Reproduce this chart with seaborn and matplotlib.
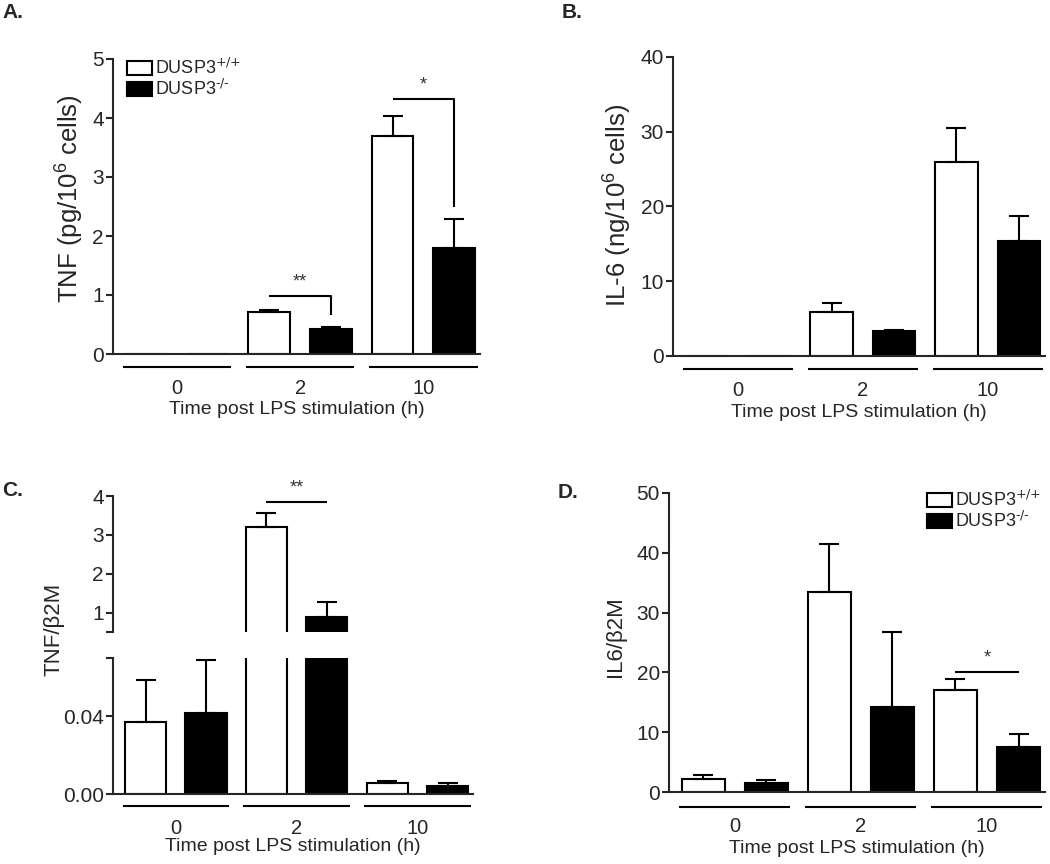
import numpy as np
import pandas as pd
import matplotlib
matplotlib.use("Agg")
import matplotlib.pyplot as plt
import matplotlib.transforms as mtransforms
from matplotlib.patches import Patch
import seaborn as sns

# ---- data ----
times = ["0", "2", "10"]
genotypes = [r"DUSP3$^{\text{+/+}}$", r"DUSP3$^{\text{-/-}}$"]

# A. TNF protein (pg/10^6 cells)
tnf_wt = [0.0, 0.71, 3.70]
tnf_wt_sem = [0.0, 0.03, 0.33]
tnf_ko = [0.0, 0.43, 1.79]
tnf_ko_sem = [0.0, 0.02, 0.50]

# B. IL-6 protein (ng/10^6 cells)
il6_wt = [0.0, 5.9, 25.9]
il6_wt_sem = [0.0, 1.2, 4.6]
il6_ko = [0.0, 3.3, 15.4]
il6_ko_sem = [0.0, 0.2, 3.3]

# C. TNF/b2M mRNA
tnfm_wt = [0.037, 3.20, 0.0056]
tnfm_wt_sem = [0.0215, 0.37, 0.0011]
tnfm_ko = [0.0415, 0.88, 0.0041]
tnfm_ko_sem = [0.0275, 0.38, 0.0015]

# D. IL6/b2M mRNA
il6m_wt = [2.2, 33.4, 17.1]
il6m_wt_sem = [0.65, 8.1, 1.8]
il6m_ko = [1.5, 14.2, 7.5]
il6m_ko_sem = [0.5, 12.6, 2.2]

# ---- style ----
sns.set_style("ticks")
plt.rcParams["font.family"] = ["Liberation Sans", "DejaVu Sans"]
plt.rcParams["mathtext.default"] = "regular"

W, H = 1050, 864
fig = plt.figure(figsize=(10.5, 8.64), dpi=100)


def px_axes(left, top, right, bottom):
    return fig.add_axes([left / W, 1 - bottom / H, (right - left) / W, (bottom - top) / H])


def long_df(wt, ko):
    return pd.DataFrame({
        "Time": times * 2,
        "Genotype": [genotypes[0]] * 3 + [genotypes[1]] * 3,
        "Value": list(wt) + list(ko),
    })


def draw_bars(ax, wt, ko, wt_sem, ko_sem):
    sns.barplot(data=long_df(wt, ko), x="Time", y="Value", hue="Genotype",
                order=times, hue_order=genotypes, palette=["white", "black"],
                edgecolor="black", linewidth=1.5, width=1.0, gap=0.32,
                errorbar=None, legend=False, ax=ax, zorder=2)
    centres = []
    for cont, vals, sems in zip(ax.containers, [wt, ko], [wt_sem, ko_sem]):
        xs = np.array([p.get_x() + p.get_width() / 2 for p in cont])
        vals, sems = np.array(vals), np.array(sems)
        keep = sems > 0
        ax.errorbar(xs[keep], vals[keep], yerr=[np.zeros(keep.sum()), sems[keep]],
                    fmt="none", ecolor="black", elinewidth=1.5, capsize=7.5,
                    capthick=1.5, zorder=3)
        centres.append(xs)
    return centres


def style_axes(ax, bottom=True):
    sns.despine(ax=ax, bottom=not bottom)
    for s in ax.spines.values():
        s.set_linewidth(1.5)
    ax.tick_params(axis="y", length=5, width=1.5, labelsize=15, pad=1.5)
    ax.tick_params(axis="x", length=0, labelsize=14.5, pad=18)
    ax.set_xlim(-0.52, 2.46)
    ax.set_xlabel("")
    ax.set_ylabel("")
    if not bottom:
        ax.tick_params(axis="x", labelbottom=False)


def underline_groups(ax, offset_pt=9.5):
    trans = mtransforms.blended_transform_factory(ax.transData, ax.transAxes)
    trans = mtransforms.offset_copy(trans, fig=fig, y=-offset_pt, units="points")
    for i in range(len(times)):
        ax.plot([i - 0.44, i + 0.44], [0, 0], transform=trans, color="black",
                lw=1.5, clip_on=False, solid_capstyle="butt")


def xlabel(ax, ypos):
    ax.set_xlabel("Time post LPS stimulation (h)", fontsize=14)
    ax.xaxis.set_label_coords(0.5, ypos)


def legend_at(x, y):
    handles = [Patch(facecolor="white", edgecolor="black", linewidth=1.5),
               Patch(facecolor="black", edgecolor="black", linewidth=1.5)]
    fig.legend(handles, genotypes, loc="upper left", bbox_to_anchor=(x / W, 1 - y / H),
               frameon=False, fontsize=13, handlelength=1.4, handleheight=0.8,
               handletextpad=0.15, labelspacing=0.05, borderpad=0, borderaxespad=0)


def star(ax, x0, x1, y, text, drop=None):
    xs, ys = [x0, x1], [y, y]
    if drop is not None:
        xs.append(x1)
        ys.append(drop)
    ax.plot(xs, ys, color="black", lw=1.5, solid_capstyle="butt", zorder=4)
    ax.annotate(text, ((x0 + x1) / 2, y), xytext=(0, 4), textcoords="offset points",
                ha="center", va="bottom", fontsize=13, color="#333333")


# ---- A ----
axA = px_axes(113, 59, 480, 354)
cA = draw_bars(axA, tnf_wt, tnf_ko, tnf_wt_sem, tnf_ko_sem)
style_axes(axA)
axA.set_ylim(0, 5)
axA.set_yticks([0, 1, 2, 3, 4, 5])
underline_groups(axA)
xlabel(axA, -0.16)
star(axA, cA[0][1], cA[1][1], 0.98, "**", drop=0.66)
star(axA, cA[0][2], cA[1][2], 4.32, "*", drop=2.49)
legend_at(127, 58)

# ---- B ----
axB = px_axes(673, 57, 1045, 356)
draw_bars(axB, il6_wt, il6_ko, il6_wt_sem, il6_ko_sem)
style_axes(axB)
axB.set_ylim(0, 40)
axB.set_yticks([0, 10, 20, 30, 40])
underline_groups(axB)
xlabel(axB, -0.16)

# ---- C (broken axis) ----
axCu = px_axes(113, 496, 473, 632)
axCl = px_axes(113, 658, 473, 794)
cC = draw_bars(axCu, tnfm_wt, tnfm_ko, tnfm_wt_sem, tnfm_ko_sem)
draw_bars(axCl, tnfm_wt, tnfm_ko, tnfm_wt_sem, tnfm_ko_sem)
style_axes(axCu, bottom=False)
style_axes(axCl)
axCu.set_ylim(0.5, 4)
axCu.set_yticks([0.5, 1, 2, 3, 4])
axCu.set_yticklabels(["", "1", "2", "3", "4"])
axCl.set_ylim(0, 0.07)
axCl.set_yticks([0, 0.04, 0.07])
axCl.set_yticklabels(["0.00", "0.04", ""])
underline_groups(axCl, 8.5)
xlabel(axCl, -0.32)
star(axCu, cC[0][1], cC[1][1], 3.84, "**")

# ---- D ----
axD = px_axes(669, 493, 1045, 792)
cD = draw_bars(axD, il6m_wt, il6m_ko, il6m_wt_sem, il6m_ko_sem)
style_axes(axD)
axD.set_ylim(0, 50)
axD.set_yticks([0, 10, 20, 30, 40, 50])
underline_groups(axD, 11)
xlabel(axD, -0.16)
star(axD, cD[0][2], cD[1][2], 20.0, "*")
legend_at(927, 490)

# ---- y labels and panel letters ----
fig.text(70 / W, 1 - 199 / H, "TNF (pg/10$^6$ cells)", rotation=90, ha="center", va="center", fontsize=18.5)
fig.text(618 / W, 1 - 205 / H, "IL-6 (ng/10$^6$ cells)", rotation=90, ha="center", va="center", fontsize=18.5)
fig.text(54 / W, 1 - 629 / H, "TNF/β2M", rotation=90, ha="center", va="center", fontsize=16)
fig.text(615 / W, 1 - 637 / H, "IL6/β2M", rotation=90, ha="center", va="center", fontsize=16)

for lab, x, y in [("A.", 2, 3), ("B.", 562, 3), ("C.", 2, 481), ("D.", 558, 483)]:
    fig.text(x / W, 1 - y / H, lab, ha="left", va="top", fontsize=15, fontweight="bold")

fig.savefig("out.png", dpi=100)
